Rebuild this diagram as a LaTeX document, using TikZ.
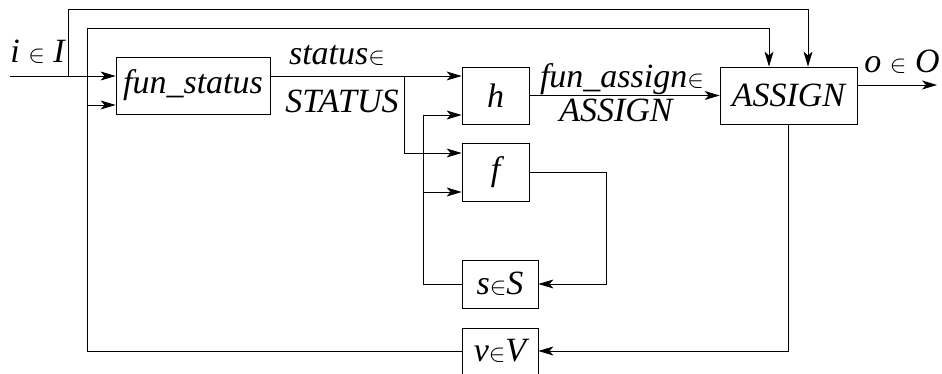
\documentclass[tikz,border=0pt]{standalone}
\usepackage{fontspec}
\newfontfamily\tnr{Liberation Serif}
\usetikzlibrary{arrows.meta}
\newcommand{\elem}{{\fontsize{27}{27}\selectfont$\in$}}
\tikzset{
  txt/.style={font={\fontsize{34}{40}\selectfont\tnr\itshape}},
  blk/.style={draw, line width=0.8pt, inner sep=0pt, txt},
  lbl/.style={inner sep=0pt, txt},
  wire/.style={line width=0.8pt},
  arr/.style={wire, -{Stealth[length=15pt,width=9pt,inset=4pt]}},
}
\begin{document}
\begin{tikzpicture}[x=1pt,y=-1pt]
\useasboundingbox (0,0) rectangle (942,374);
% blocks
\node[blk, minimum width=154, minimum height=57] (fs) at (193,85.5) {fun\_status};
\node[blk, minimum width=67, minimum height=57] (h) at (495.5,95.5) {h};
\node[blk, minimum width=67, minimum height=58] (f) at (495.5,172) {f};
\node[blk, minimum width=76, minimum height=48] (s) at (500,284) {s\elem S};
\node[blk, minimum width=76, minimum height=46] (v) at (500,351) {v\elem V};
\node[blk, minimum width=137, minimum height=57] (A) at (788.5,95.5) {ASSIGN};
% labels
\node[lbl, anchor=base] (li) at (37.5,63) {i \elem\ I};
\node[lbl, anchor=base] (lo) at (902,73) {o \elem\ O};
\node[lbl, anchor=base] (ls1) at (337,65) {status\elem};
\node[lbl, anchor=base] (ls2) at (342,113) {STATUS};
\node[lbl, anchor=base] (la1) at (622,88) {fun\_assign\elem};
\node[lbl, anchor=base] (la2) at (616,122) {ASSIGN};
% coordinates
\coordinate (in) at (10,76);
\coordinate (t1) at (68,76);
\coordinate (j1) at (87,105);
\coordinate (b1) at (404,76);
\coordinate (x2) at (423,0);
\coordinate (c1) at (606,0);
\coordinate (out) at (937,85);
% connectors
\draw[arr] (in) -- (fs.west |- in);
\draw[arr] (t1) -- (68,9) -| ([xshift=19.5pt]A.north);
\draw[arr] (v.west) -| (87,28) -| ([xshift=-19.5pt]A.north);
\draw[arr] (j1) -- (fs.west |- j1);
\draw[arr] (fs.east |- b1) -- (h.west |- b1);
\draw[arr] (b1) |- (f.west |- 0,153);
\draw[arr] (h.east) -- (A.west);
\draw[arr] (f.east) -| (c1 |- s.east) -- (s.east);
\draw[arr] (s.west) -| (x2 |- 0,115) -- (h.west |- 0,115);
\draw[arr] (x2 |- 0,192) -- (f.west |- 0,192);
\draw[arr] (A.east |- out) -- (out);
\draw[arr] (A.south) |- (v.east);
\end{tikzpicture}
\end{document}
